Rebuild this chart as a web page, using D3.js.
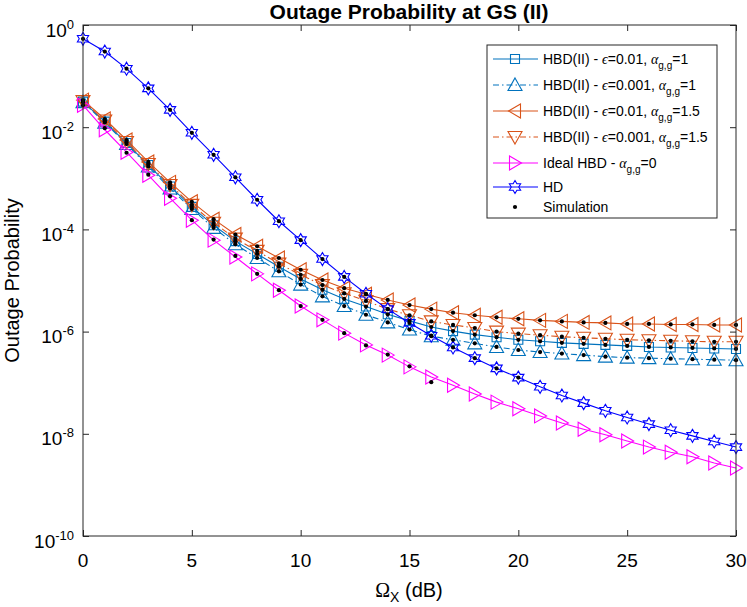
<!DOCTYPE html>
<html>
<head>
<meta charset="utf-8">
<script src="https://cdn.jsdelivr.net/npm/d3@7"></script>
<style>
  body { margin: 0; background: #fff; overflow: hidden; }
  text { font-family: "Liberation Sans", Arial, Helvetica, sans-serif; fill: #000; }
</style>
</head>
<body>
<script>
// x axis: Omega_X in dB
const omegaDb = [0, 1, 2, 3, 4, 5, 6, 7, 8, 9, 10, 11, 12, 13, 14, 15, 16, 17, 18, 19, 20,
                 21, 22, 23, 24, 25, 26, 27, 28, 29, 30];

// outage probability, stored as log10(P_out)
const hbdEps01Alpha1 = [-1.50, -1.89, -2.31, -2.74, -3.16, -3.56, -3.92, -4.23, -4.48, -4.73, -4.97,
                        -5.18, -5.36, -5.51, -5.66, -5.79, -5.91, -5.99, -6.06, -6.11, -6.16,
                        -6.19, -6.22, -6.24, -6.26, -6.28, -6.30, -6.31, -6.32, -6.33, -6.34];
const hbdEps001Alpha1 = [-1.51, -1.91, -2.33, -2.77, -3.20, -3.60, -3.97, -4.29, -4.56, -4.82, -5.08,
                         -5.31, -5.50, -5.67, -5.82, -5.96, -6.09, -6.16, -6.23, -6.30, -6.36,
                         -6.40, -6.43, -6.46, -6.49, -6.51, -6.52, -6.53, -6.54, -6.55, -6.56];
const hbdEps01Alpha15 = [-1.47, -1.84, -2.25, -2.68, -3.08, -3.46, -3.80, -4.10, -4.33, -4.56, -4.79,
                         -4.99, -5.15, -5.27, -5.38, -5.48, -5.56, -5.63, -5.68, -5.72, -5.75,
                         -5.78, -5.80, -5.82, -5.83, -5.85, -5.85, -5.86, -5.86, -5.87, -5.87];
const hbdEps001Alpha15 = [-1.49, -1.87, -2.29, -2.72, -3.13, -3.52, -3.87, -4.18, -4.42, -4.67, -4.89,
                          -5.09, -5.25, -5.40, -5.56, -5.68, -5.80, -5.87, -5.93, -6.00, -6.04,
                          -6.07, -6.10, -6.12, -6.14, -6.16, -6.17, -6.18, -6.19, -6.20, -6.20];
const idealHbd = [-1.57, -2.05, -2.49, -2.94, -3.39, -3.82, -4.21, -4.54, -4.87, -5.19, -5.50,
                  -5.77, -6.03, -6.26, -6.46, -6.69, -6.89, -7.05, -7.22, -7.38, -7.51,
                  -7.65, -7.79, -7.91, -8.02, -8.14, -8.26, -8.36, -8.45, -8.57, -8.67];
const hd = [-0.27, -0.52, -0.855, -1.24, -1.66, -2.11, -2.54, -2.98, -3.42, -3.84, -4.21,
            -4.58, -4.93, -5.26, -5.56, -5.83, -6.08, -6.31, -6.52, -6.72, -6.90,
            -7.08, -7.25, -7.40, -7.55, -7.68, -7.81, -7.93, -8.04, -8.15, -8.26];

// Monte-Carlo points (log10), only where the simulation reached
const simIdealHbd = [-1.57, -2.02, -2.50, -2.93, -3.35, -3.82, -4.20, -4.52, -4.87, -5.19, -5.50,
                     -5.77, -6.03, -6.27, -6.45, -6.68, -6.99];
const simHd = [-0.27, -0.52, -0.855, -1.24, -1.66, -2.11, -2.54, -2.98, -3.42, -3.84, -4.21,
               -4.58, -4.93, -5.26, -5.56, -5.83, -6.08, -6.31, -6.52, -6.72, -6.90];
const simHbd = [hbdEps01Alpha1, hbdEps001Alpha1, hbdEps01Alpha15, hbdEps001Alpha15];

const xTicks = [0, 5, 10, 15, 20, 25, 30];
const yTickExp = [0, -2, -4, -6, -8, -10];

const series = [
  {values: hbdEps01Alpha1, color: "#0072BD", dash: null, marker: "square", eps: "0.01", alpha: "1"},
  {values: hbdEps001Alpha1, color: "#0072BD", dash: "6,3,1.5,3", marker: "up", eps: "0.001", alpha: "1"},
  {values: hbdEps01Alpha15, color: "#D95319", dash: null, marker: "left", eps: "0.01", alpha: "1.5"},
  {values: hbdEps001Alpha15, color: "#D95319", dash: "6,3,1.5,3", marker: "down", eps: "0.001", alpha: "1.5"},
  {values: idealHbd, color: "#FF00FF", dash: null, marker: "right", ideal: true},
  {values: hd, color: "#0000FF", dash: null, marker: "hexagram", label: "HD"}
];

const W = 747, H = 607;
const plot = {left: 83, right: 736, top: 25, bottom: 536};

const svg = d3.select("body").append("svg")
  .attr("width", W).attr("height", H);

const x = d3.scaleLinear().domain([0, 30]).range([plot.left, plot.right]);
const y = d3.scaleLog().domain([1e-10, 1]).range([plot.bottom, plot.top]);
const py = v => y(Math.pow(10, v));

// marker shapes
function markerPath(type) {
  if (type === "square") return "M-4.5,-4.5H4.5V4.5H-4.5Z";
  if (type === "up") return "M0,-7L7,5.5L-7,5.5Z";
  if (type === "down") return "M0,7L7,-5.5L-7,-5.5Z";
  if (type === "left") return "M-6.5,0L5.5,-7L5.5,7Z";
  if (type === "right") return "M6.5,0L-5.5,-7L-5.5,7Z";
  if (type === "hexagram") {
    const R = 6.5, r = R / Math.sqrt(3);
    let pts = [];
    for (let k = 0; k < 12; k++) {
      const a = (-90 + k * 30) * Math.PI / 180;
      const rr = k % 2 ? r : R;
      pts.push([rr * Math.cos(a), rr * Math.sin(a)]);
    }
    return "M" + pts.map(p => p[0].toFixed(2) + "," + p[1].toFixed(2)).join("L") + "Z";
  }
}

const axisColor = "#262626";

// curves
const line = d3.line().x((d, i) => x(omegaDb[i])).y(d => py(d));
const gCurves = svg.append("g");
series.forEach(s => {
  gCurves.append("path")
    .attr("d", line(s.values))
    .attr("fill", "none")
    .attr("stroke", s.color)
    .attr("stroke-width", 1.1)
    .attr("stroke-dasharray", s.dash);
  gCurves.append("g").selectAll("path")
    .data(s.values)
    .join("path")
    .attr("transform", (d, i) => `translate(${x(omegaDb[i])},${py(d)})`)
    .attr("d", markerPath(s.marker))
    .attr("fill", "none")
    .attr("stroke", s.color)
    .attr("stroke-width", 1.1);
});

// simulation dots
const gSim = svg.append("g").attr("fill", "#000");
[...simHbd, simIdealHbd, simHd].forEach(arr => {
  gSim.append("g").selectAll("circle")
    .data(arr)
    .join("circle")
    .attr("cx", (d, i) => x(omegaDb[i]))
    .attr("cy", d => py(d))
    .attr("r", 2.1);
});

// axes box + ticks (inside)
const gAxes = svg.append("g");
gAxes.append("g")
  .attr("transform", `translate(0,${plot.bottom})`)
  .call(d3.axisBottom(x).tickValues(xTicks).tickSizeInner(-6).tickSizeOuter(0).tickFormat(""));
gAxes.append("g")
  .attr("transform", `translate(0,${plot.top})`)
  .call(d3.axisTop(x).tickValues(xTicks).tickSizeInner(-6).tickSizeOuter(0).tickFormat(""));
gAxes.append("g")
  .attr("transform", `translate(${plot.left},0)`)
  .call(d3.axisLeft(y).tickValues(yTickExp.map(e => Math.pow(10, e))).tickSizeInner(-6).tickSizeOuter(0).tickFormat(""));
gAxes.append("g")
  .attr("transform", `translate(${plot.right},0)`)
  .call(d3.axisRight(y).tickValues(yTickExp.map(e => Math.pow(10, e))).tickSizeInner(-6).tickSizeOuter(0).tickFormat(""));
gAxes.selectAll(".domain").remove();
gAxes.selectAll("line").attr("stroke", axisColor);
gAxes.append("rect")
  .attr("x", plot.left).attr("y", plot.top)
  .attr("width", plot.right - plot.left).attr("height", plot.bottom - plot.top)
  .attr("fill", "none").attr("stroke", axisColor).attr("stroke-width", 1);

// tick labels
svg.append("g").selectAll("text")
  .data(xTicks)
  .join("text")
  .attr("x", d => x(d))
  .attr("y", 567)
  .attr("text-anchor", "middle")
  .style("font-size", "19px")
  .text(d => d);

const yLab = svg.append("g").selectAll("text")
  .data(yTickExp)
  .join("text")
  .attr("x", 74)
  .attr("y", d => py(d) + 11.5)
  .attr("text-anchor", "end")
  .style("font-size", "19px");
yLab.append("tspan").text("10");
yLab.append("tspan").attr("dy", -8).style("font-size", "13px").text(d => d);

// axis labels and title
const xl = svg.append("text")
  .attr("x", 409).attr("y", 597)
  .attr("text-anchor", "middle")
  .style("font-size", "20px");
xl.append("tspan").style("font-family", "'Liberation Serif', 'DejaVu Serif', serif").text("Ω");
xl.append("tspan").attr("dy", 5).style("font-size", "14px").text("X");
xl.append("tspan").attr("dy", -5).text(" (dB)");

svg.append("text")
  .attr("transform", `translate(19,${(plot.top + plot.bottom) / 2}) rotate(-90)`)
  .attr("text-anchor", "middle")
  .style("font-size", "20px")
  .text("Outage Probability");

svg.append("text")
  .attr("x", 409).attr("y", 19)
  .attr("text-anchor", "middle")
  .style("font-size", "21px")
  .style("font-weight", "bold")
  .text("Outage Probability at GS (II)");

// legend
const legend = svg.append("g");
legend.append("rect")
  .attr("x", 487).attr("y", 45).attr("width", 230).attr("height", 173)
  .attr("fill", "#fff").attr("stroke", axisColor).attr("stroke-width", 1);

const rowY = [59, 85, 111, 137, 163, 187, 207];
const greek = "'Liberation Serif', 'DejaVu Serif', serif";

function addAlpha(t, val) {
  t.append("tspan").style("font-family", greek).style("font-style", "italic").text("α");
  t.append("tspan").attr("dy", 5).style("font-size", "10px").text("g,g");
  t.append("tspan").attr("dy", -5).text("=" + val);
}

series.forEach((s, i) => {
  const yy = rowY[i];
  legend.append("line")
    .attr("x1", 493).attr("x2", 538).attr("y1", yy).attr("y2", yy)
    .attr("stroke", s.color).attr("stroke-width", 1.1)
    .attr("stroke-dasharray", s.dash);
  legend.append("path")
    .attr("transform", `translate(515,${yy})`)
    .attr("d", markerPath(s.marker))
    .attr("fill", "none").attr("stroke", s.color).attr("stroke-width", 1.1);
  const t = legend.append("text")
    .attr("x", 543).attr("y", yy + 5)
    .style("font-size", "14px");
  if (s.eps) {
    t.append("tspan").text("HBD(II) - ");
    t.append("tspan").style("font-family", greek).style("font-style", "italic").text("ϵ");
    t.append("tspan").text("=" + s.eps + ", ");
    addAlpha(t, s.alpha);
  } else if (s.ideal) {
    t.append("tspan").text("Ideal HBD - ");
    addAlpha(t, "0");
  } else {
    t.text(s.label);
  }
});
legend.append("circle").attr("cx", 515).attr("cy", rowY[6]).attr("r", 2.1).attr("fill", "#000");
legend.append("text").attr("x", 543).attr("y", rowY[6] + 5).style("font-size", "14px").text("Simulation");
</script>
</body>
</html>
